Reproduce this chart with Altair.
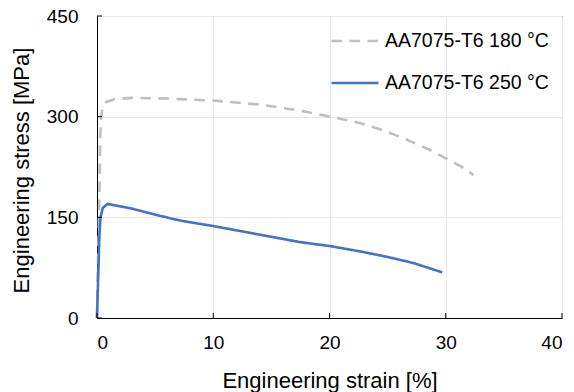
import altair as alt
import pandas as pd

s180_strain = [0.0, 0.05, 0.15, 0.22, 0.28, 0.35, 0.5, 0.8, 1.5, 3.0, 6.0, 10.0, 14.0, 17.5, 20.1, 22.5, 24.4, 26.5, 28.7, 30.1, 31.3, 32.4]
s180_stress = [0.0, 60.0, 130.0, 200.0, 270.0, 300.0, 315.0, 322.0, 326.0, 328.0, 327.0, 324.0, 318.0, 309.0, 300.0, 291.0, 281.0, 267.0, 250.0, 237.0, 226.0, 213.0]

s250_strain = [0.0, 0.1, 0.2, 0.3, 0.5, 0.9, 3.0, 5.0, 7.2, 10.0, 15.0, 17.5, 20.1, 22.7, 25.0, 27.2, 29.7]
s250_stress = [0.0, 60.0, 120.0, 150.0, 164.0, 170.0, 163.0, 154.0, 145.0, 137.0, 121.0, 113.0, 107.0, 99.0, 91.0, 82.0, 68.0]

labels = ["AA7075-T6 180 °C", "AA7075-T6 250 °C"]
x_ticks = [0, 10, 20, 30, 40]
y_ticks = [0, 150, 300, 450]

rows = []
for i, (a, b) in enumerate(zip(s180_strain, s180_stress)):
    rows.append({"strain": a, "stress": b, "series": labels[0], "order": i})
for i, (a, b) in enumerate(zip(s250_strain, s250_stress)):
    rows.append({"strain": a, "stress": b, "series": labels[1], "order": i})
df = pd.DataFrame(rows)

W, H = 465, 302
FONT = "Liberation Sans"

xscale = alt.Scale(domain=[0, 40], nice=False)
yscale = alt.Scale(domain=[0, 450], nice=False)

lines = alt.Chart(df).mark_line(strokeWidth=2.6).encode(
    x=alt.X("strain:Q", scale=xscale,
            axis=alt.Axis(title="Engineering strain [%]", values=x_ticks, ticks=False,
                          labelPadding=15, titleX=W / 2, titleY=69, titleBaseline="alphabetic")),
    y=alt.Y("stress:Q", scale=yscale,
            axis=alt.Axis(title="Engineering stress [MPa]", values=y_ticks, ticks=False,
                          labelPadding=19, titleX=-69, titleY=154, titleAngle=-90,
                          titleAlign="center", titleBaseline="alphabetic")),
    color=alt.Color("series:N", scale=alt.Scale(domain=labels, range=["#BFBFBF", "#4472C4"]),
                    legend=alt.Legend(title=None, orient="none", legendX=233, legendY=0,
                                      padding=0, labelLimit=400,
                                      symbolType="stroke", symbolSize=2209, symbolStrokeWidth=2.6,
                                      labelFontSize=19.5, labelFont=FONT, labelColor="black",
                                      labelOffset=5, rowPadding=7)),
    strokeDash=alt.StrokeDash("series:N", scale=alt.Scale(domain=labels, range=[[10.5, 7.5], [1, 0]]),
                              legend=None),
    order="order:Q",
)

xt = pd.DataFrame({"v": x_ticks})
yt = pd.DataFrame({"v": y_ticks})
xticks = alt.Chart(xt).mark_rule(color="black", strokeWidth=1).encode(
    x=alt.X("v:Q", scale=xscale), y=alt.value(H - 5), y2=alt.value(H))
yticks = alt.Chart(yt).mark_rule(color="black", strokeWidth=1).encode(
    y=alt.Y("v:Q", scale=yscale), x=alt.value(0), x2=alt.value(5))

chart = alt.layer(lines, xticks, yticks).properties(
    width=W, height=H,
    padding={"left": 97, "top": 16, "right": 12, "bottom": 74},
    autosize=alt.AutoSizeParams(type="none"),
    background="white",
).configure_view(stroke="black", strokeWidth=1).configure_axis(
    grid=True, gridColor="#E9E9E9", gridWidth=1,
    domainColor="black", domainWidth=1,
    labelFont=FONT, labelFontSize=19, labelColor="black",
    titleFont=FONT, titleFontSize=22, titleColor="black", titleFontWeight="normal",
)

chart.save("out.html", embed_options={"renderer": "svg", "actions": False})
